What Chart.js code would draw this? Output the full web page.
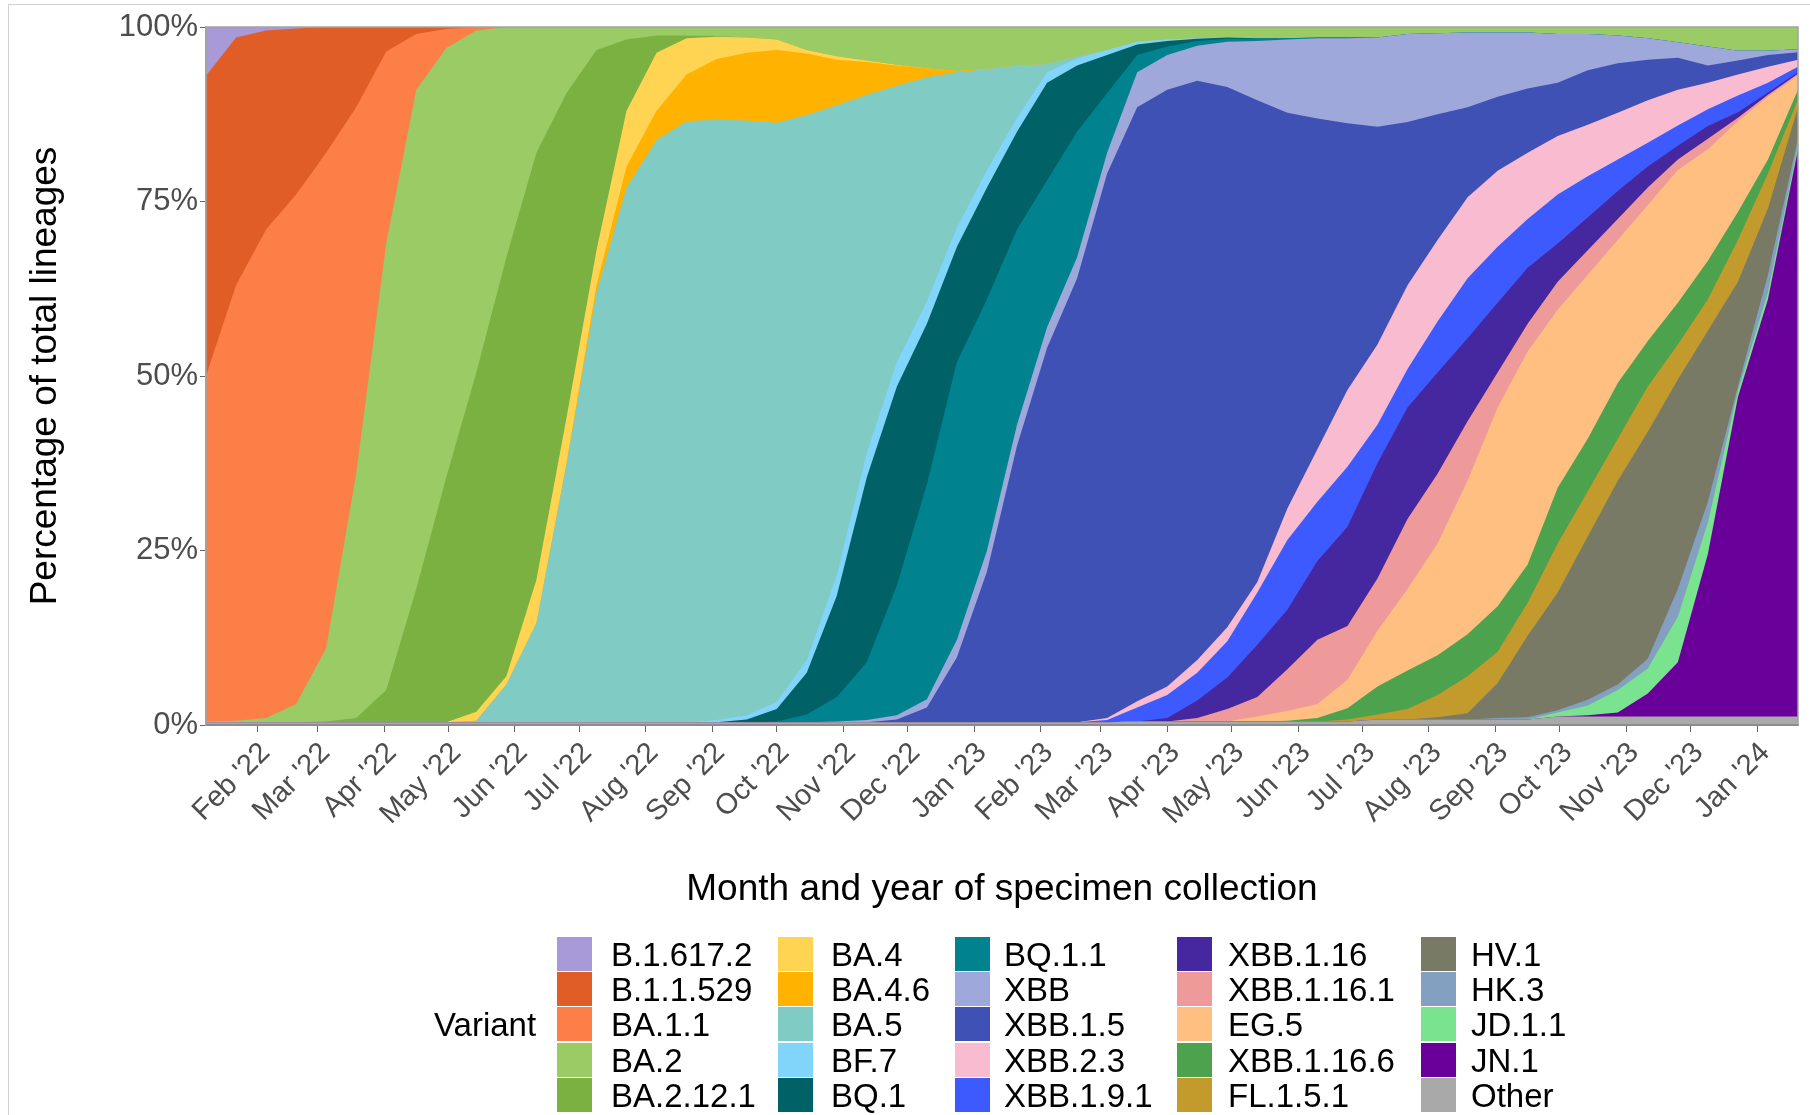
<!DOCTYPE html>
<html><head><meta charset="utf-8">
<script src="https://cdn.jsdelivr.net/npm/chart.js@4.4.1/dist/chart.umd.min.js"></script>
<style>
html,body{margin:0;padding:0;background:#fff;}
body{width:1810px;height:1115px;position:relative;overflow:hidden;font-family:"Liberation Sans",Arial,sans-serif;}
#frame{position:absolute;left:8px;top:4px;width:1830px;height:1130px;border-left:1px solid #d0d0d0;border-top:1px solid #d0d0d0;}
#c{position:absolute;left:0;top:0;}
#legend{position:absolute;left:0;top:0;width:1810px;height:1115px;}
.sw{position:absolute;width:35px;height:34px;}
.lt{position:absolute;font-size:33px;line-height:35px;color:#000;white-space:nowrap;}
</style></head><body>
<div id="frame"></div>
<canvas id="c" width="1810" height="1115"></canvas>
<div id="legend"></div>
<script>
// ---- categories (biweekly collection periods) ----
const dates = ['2022-01-08','2022-01-22','2022-02-05','2022-02-19','2022-03-05','2022-03-19','2022-04-02','2022-04-16','2022-04-30','2022-05-14',
'2022-05-28','2022-06-11','2022-06-25','2022-07-09','2022-07-23','2022-08-06','2022-08-20','2022-09-03','2022-09-17','2022-10-01',
'2022-10-15','2022-10-29','2022-11-12','2022-11-26','2022-12-10','2022-12-24','2023-01-07','2023-01-21','2023-02-04','2023-02-18',
'2023-03-04','2023-03-18','2023-04-01','2023-04-15','2023-04-29','2023-05-13','2023-05-27','2023-06-10','2023-06-24','2023-07-08',
'2023-07-22','2023-08-05','2023-08-19','2023-09-02','2023-09-16','2023-09-30','2023-10-14','2023-10-28','2023-11-11','2023-11-25',
'2023-12-09','2023-12-23','2024-01-06','2024-01-20'];

// ---- tick labels ----
const tickDates = ['2022-02-01','2022-03-01','2022-04-01','2022-05-01','2022-06-01','2022-07-01','2022-08-01','2022-09-01','2022-10-01','2022-11-01','2022-12-01',
'2023-01-01','2023-02-01','2023-03-01','2023-04-01','2023-05-01','2023-06-01','2023-07-01','2023-08-01','2023-09-01','2023-10-01','2023-11-01','2023-12-01','2024-01-01'];
const tickLabels = ["Feb '22","Mar '22","Apr '22","May '22","Jun '22","Jul '22","Aug '22","Sep '22","Oct '22","Nov '22","Dec '22",
"Jan '23","Feb '23","Mar '23","Apr '23","May '23","Jun '23","Jul '23","Aug '23","Sep '23","Oct '23","Nov '23","Dec '23","Jan '24"];
const yTicks = [0, 25, 50, 75, 100];

// ---- variants (legend order = top of stack first) and colours ----
const variants = ['B.1.617.2','B.1.1.529','BA.1.1','BA.2','BA.2.12.1','BA.4','BA.4.6','BA.5','BF.7','BQ.1',
'BQ.1.1','XBB','XBB.1.5','XBB.2.3','XBB.1.9.1','XBB.1.16','XBB.1.16.1','EG.5','XBB.1.16.6','FL.1.5.1',
'HV.1','HK.3','JD.1.1','JN.1','Other'];
const colors = ['#A899D8','#E05E26','#FD7F48','#9BCB65','#7BB141','#FFD452','#FFB300','#80CBC4','#81D4FA','#006266',
'#00838F','#9FA8DA','#3F51B5','#F8BBD0','#3D5AFE','#4527A0','#EF9A9A','#FFBF80','#4DA24E','#C29B2C',
'#797A66','#84A0C0','#79E38F','#680099','#A9A9A9'];

// ---- series values (% of lineages), one value per period ----
const B_1_617_2 = [7,1.5,0.5,0.2,0,0,0,0,0,0, 0,0,0,0,0,0,0,0,0,0, 0,0,0,0,0,0,0,0,0,0, 0,0,0,0,0,0,0,0,0,0, 0,0,0,0,0,0,0,0,0,0, 0,0,0,0];
const B_1_1_529 = [43,35.5,28.5,23.8,18,11.5,3.5,1,0.3,0, 0,0,0,0,0,0,0,0,0,0, 0,0,0,0,0,0,0,0,0,0, 0,0,0,0,0,0,0,0,0,0, 0,0,0,0,0,0,0,0,0,0, 0,0,0,0];
const BA_1_1 = [49.5,62.4,70,73,71,52.5,27.5,8,2.7,0.5, 0,0,0,0,0,0,0,0,0,0, 0,0,0,0,0,0,0,0,0,0, 0,0,0,0,0,0,0,0,0,0, 0,0,0,0,0,0,0,0,0,0, 0,0,0,0];
const BA_2 = [0.1,0.2,0.6,2.6,10.5,35,64,71.5,61.5,49, 33,18,9.5,3.3,1.8,1.2,1.2,1.3,1.5,1.8, 3.3,4.2,4.8,5.4,5.9,6.3,6,5.5,5.3,4.2, 3.3,2.1,1.8,1.6,1.5,1.6,1.6,1.5,1.5,1.5, 1.0,0.9,0.8,0.8,0.8,1.0,1.0,1.2,1.6,2.2, 2.8,3.4,3.4,3.2];
const BA_2_12_1 = [0,0,0,0,0.1,0.6,4.6,19.1,35.1,48.6, 60,61.2,46.5,28.7,10.2,2.5,0.4,0.1,0,0, 0,0,0,0,0,0,0,0,0,0, 0,0,0,0,0,0,0,0,0,0, 0,0,0,0,0,0,0,0,0,0, 0,0,0,0];
const BA_4 = [0,0,0,0,0,0,0,0,0,1.3, 1.2,6.2,6.5,5,8,8.3,5.2,3.2,2.2,1.5, 0.5,0.5,0.2,0.1,0,0,0,0,0,0, 0,0,0,0,0,0,0,0,0,0, 0,0,0,0,0,0,0,0,0,0, 0,0,0,0];
const BA_4_6 = [0,0,0,0,0,0,0,0,0,0, 0,0,0.2,1,3,4.2,6.7,8.7,9.7,10.4, 8.8,6.5,4.7,2.9,1.3,0.2,0,0,0,0, 0,0,0,0,0,0,0,0,0,0, 0,0,0,0,0,0,0,0,0,0, 0,0,0,0];
const BA_5 = [0,0,0,0,0,0,0,0,0,0.2, 5.4,14.2,36.9,61.6,76.6,83.4,86.1,86.0,85.2,83.0, 78.1,67.3,51.3,39.6,32.1,22.2,14.5,7.5,1.2,0.3, 0,0,0,0,0,0,0,0,0,0, 0,0,0,0,0,0,0,0,0,0, 0,0,0,0];
const BF_7 = [0,0,0,0,0,0,0,0,0,0, 0,0,0,0,0,0,0,0.3,0.6,1.0, 1.8,3,3.5,3.5,3.2,2.8,2.5,2,1.5,1, 0.7,0.4,0.2,0.1,0,0,0,0,0,0, 0,0,0,0,0,0,0,0,0,0, 0,0,0,0];
const BQ_1 = [0,0,0,0,0,0,0,0,0,0, 0,0,0,0,0,0,0,0,0.4,1.8, 6,14.5,26.5,28.5,23,16.5,16,14,14,9.5, 5.5,1.5,0.8,0.3,0.2,0.1,0,0,0,0, 0,0,0,0,0,0,0,0,0,0, 0,0,0,0];
const BQ_1_1 = [0,0,0,0,0,0,0,0,0,0, 0,0,0,0,0,0,0,0,0,0.1, 1.1,3.5,8.3,18.6,30.8,39.8,36,28,21,18, 8.5,2.5,1.2,0.7,0.4,0.3,0.2,0.1,0.1,0, 0,0,0,0,0,0,0,0,0,0, 0,0,0,0];
const XBB = [0,0,0,0,0,0,0,0,0,0, 0,0,0,0,0,0,0,0,0,0, 0,0.1,0.3,0.6,1.2,2.5,3,3,3,3, 3,5,5,5,6.5,8.5,10.5,11.5,12.2,12.8, 12.6,11.6,10.7,9.2,8,7,5.2,4,3.1,2.2, 2.7,1.4,0.6,0.4];
const XBB_1_5 = [0,0,0,0,0,0,0,0,0,0, 0,0,0,0,0,0,0,0,0,0, 0,0,0,0.4,2.1,9.3,21.6,39.6,53.6,63.6, 78.0,85.1,85.5,83,77.4,69,56.7,47.4,38.2,31.2, 23.4,18,12.9,10.6,9.2,7.6,7.8,7.1,5.8,4.6, 2.5,2,1.7,1.1];
const XBB_2_3 = [0,0,0,0,0,0,0,0,0,0, 0,0,0,0,0,0,0,0,0,0, 0,0,0,0,0,0,0,0,0,0, 0.3,0.9,1.2,1.8,2,1.5,4.5,7.5,11,11.5, 12,11.7,11.6,10.9,9.5,8.4,7.4,6.7,6.1,5.1, 3.8,3,2.3,1];
const XBB_1_9_1 = [0,0,0,0,0,0,0,0,0,0, 0,0,0,0,0,0,0,0,0,0, 0,0,0,0,0,0,0,0,0,0, 0.3,2.0,3.3,4.0,5.2,7.5,10,8.5,8.6,5.5, 5.5,7.3,8.6,8,7,7,5.9,4.5,3.4,2.9, 2.4,2.4,1.4,0.8];
const XBB_1_16 = [0,0,0,0,0,0,0,0,0,0, 0,0,0,0,0,0,0,0,0,0, 0,0,0,0,0,0,0,0,0,0, 0,0,0.5,2.5,4.5,7.5,8.5,11.3,14.2,16.5, 16,14.5,11.9,10,8,5.5,4.7,4,3,2, 1.8,0.8,0.3,0.2];
const XBB_1_16_1 = [0,0,0,0,0,0,0,0,0,0, 0,0,0,0,0,0,0,0,0,0, 0,0,0,0,0,0,0,0,0,0, 0,0,0,0.5,1.8,2.8,6,9.2,7.7,7.5, 10,10,8.5,5,4,4,3.5,3,2.5,1.5, 1.5,0.5,0.3,0.3];
const EG_5 = [0,0,0,0,0,0,0,0,0,0, 0,0,0,0,0,0,0,0,0,0, 0,0,0,0,0,0,0,0,0,0, 0,0,0,0,0,0.7,1.4,2,4.1,8, 11.7,16,22,28.5,30.5,25.5,23.5,20.5,19.5,19, 16,13,9,2];
const XBB_1_16_6 = [0,0,0,0,0,0,0,0,0,0, 0,0,0,0,0,0,0,0,0,0, 0,0,0,0,0,0,0,0,0,0, 0,0,0,0,0,0,0.1,0.5,1.6,4, 5.5,5.7,6,6.5,5.5,8,7.5,8,6.5,6, 5.5,4,2,1.4];
const FL_1_5_1 = [0,0,0,0,0,0,0,0,0,0, 0,0,0,0,0,0,0,0,0,0, 0,0,0,0,0,0,0,0,0,0, 0,0,0,0,0,0,0,0,0.3,0.7, 1.5,3.2,5.3,4.5,4.7,7,6.5,6,6.5,5, 4.5,6,5,1.1];
const HV_1 = [0,0,0,0,0,0,0,0,0,0, 0,0,0,0,0,0,0,0,0,0, 0,0,0,0,0,0,0,0,0,0, 0,0,0,0,0,0,0,0,0,0, 0,0.3,0.9,5,11.7,16.9,23.4,29.2,32.5,30, 24.5,15,9.5,4.5];
const HK_3 = [0,0,0,0,0,0,0,0,0,0, 0,0,0,0,0,0,0,0,0,0, 0,0,0,0,0,0,0,0,0,0, 0,0,0,0,0,0,0,0,0,0, 0,0,0,0.2,0.3,0.3,0.8,0.8,1.4,4, 3,0.7,2.5,1];
const JD_1_1 = [0,0,0,0,0,0,0,0,0,0, 0,0,0,0,0,0,0,0,0,0, 0,0,0,0,0,0,0,0,0,0, 0,0,0,0,0,0,0,0,0,0, 0,0,0,0,0,0.6,1.4,3.2,3.6,6.5, 4.5,0.8,1,0.5];
const JN_1 = [0,0,0,0,0,0,0,0,0,0, 0,0,0,0,0,0,0,0,0,0, 0,0,0,0,0,0,0,0,0,0, 0,0,0,0,0,0,0,0,0,0, 0,0,0,0,0,0,0.2,0.6,3.3,7.8, 23.3,45.8,59.8,81.3];
const OTHER = [0.4,0.4,0.4,0.4,0.4,0.4,0.4,0.4,0.4,0.4, 0.4,0.4,0.4,0.4,0.4,0.4,0.4,0.4,0.4,0.4, 0.4,0.4,0.4,0.4,0.4,0.4,0.4,0.4,0.4,0.4, 0.4,0.5,0.5,0.5,0.5,0.5,0.5,0.5,0.5,0.8, 0.8,0.8,0.8,0.8,0.8,1.2,1.2,1.2,1.2,1.2, 1.2,1.2,1.2,1.2];

const seriesValues = [B_1_617_2,B_1_1_529,BA_1_1,BA_2,BA_2_12_1,BA_4,BA_4_6,BA_5,BF_7,BQ_1,
BQ_1_1,XBB,XBB_1_5,XBB_2_3,XBB_1_9_1,XBB_1_16,XBB_1_16_1,EG_5,XBB_1_16_6,FL_1_5_1,
HV_1,HK_3,JD_1_1,JN_1,OTHER];

// ---- build chart ----
const FONT = "'Liberation Sans', Arial, Helvetica, sans-serif";
Chart.defaults.font.family = FONT;
const toDay = s => Date.UTC(+s.slice(0,4), +s.slice(5,7)-1, +s.slice(8,10)) / 864e5;
const xs = dates.map(toDay);

// bottom of stack first (reverse legend order). Each band is filled down to the
// origin; Chart.js paints the last dataset first, so lower bands cover the rest
// (painter's order, no seams between neighbouring bands).
const order = variants.map((v,i)=>i).reverse();
const datasets = order.map((vi) => {
  const vals = seriesValues[vi];
  const col = colors[vi];
  return {
    label: variants[vi],
    data: vals.map((v, j) => ({x: xs[j], y: v})),
    backgroundColor: col,
    borderColor: col,
    borderWidth: 0,
    pointRadius: 0,
    pointHoverRadius: 0,
    tension: 0,
    fill: 'origin'
  };
});

const panelBorder = {
  id: 'panelBorder',
  afterDatasetsDraw(chart) {
    const {ctx, chartArea: a} = chart;
    ctx.save();
    ctx.strokeStyle = '#a3a3a3';
    ctx.lineWidth = 1.5;
    ctx.strokeRect(a.left, a.top, a.right - a.left, a.bottom - a.top);
    ctx.beginPath();
    ctx.strokeStyle = '#8c8c8c';
    ctx.lineWidth = 2;
    ctx.moveTo(a.left, a.bottom); ctx.lineTo(a.right, a.bottom);
    ctx.stroke();
    ctx.restore();
  }
};

new Chart(document.getElementById('c'), {
  type: 'line',
  data: { datasets },
  plugins: [panelBorder],
  options: {
    responsive: false,
    animation: false,
    events: [],
    layout: { padding: { left: 0, right: 12, top: 27, bottom: 0 } },
    plugins: { legend: { display: false }, tooltip: { enabled: false }, filler: { drawTime: 'beforeDatasetDraw' } },
    scales: {
      x: {
        type: 'linear',
        min: xs[0], max: xs[xs.length - 1],
        afterFit: s => { s.height = 390; },
        afterBuildTicks: s => { s.ticks = tickDates.map(d => ({ value: toDay(d) })); },
        ticks: {
          autoSkip: false, minRotation: 45, maxRotation: 45,
          padding: 4, labelOffset: 8,
          color: '#4d4d4d', font: { size: 29 },
          callback: (v, i) => tickLabels[i]
        },
        grid: { display: true, drawOnChartArea: false, drawTicks: true, tickLength: 7, tickColor: '#666', color: '#666' },
        border: { display: true, color: '#8c8c8c', width: 2 },
        title: { display: true, text: 'Month and year of specimen collection', color: '#000',
                 font: { size: 37 }, padding: { top: 0, bottom: 203 } }
      },
      y: {
        stacked: true,
        min: 0, max: 100,
        afterFit: s => { s.width = 206; },
        afterBuildTicks: s => { s.ticks = yTicks.map(v => ({ value: v })); },
        ticks: { color: '#4d4d4d', font: { size: 31 }, padding: 2, callback: v => v + '%' },
        grid: { display: true, drawOnChartArea: false, drawTicks: true, tickLength: 6, tickColor: '#666', color: '#666' },
        border: { display: true, color: '#a3a3a3', width: 1.5 },
        title: { display: true, text: 'Percentage of total lineages', color: '#000',
                 font: { size: 37 }, padding: { top: 24, bottom: 0 } }
      }
    }
  }
});

// ---- legend (HTML, built from the same arrays) ----
const lg = document.getElementById('legend');
const swX = [557, 778, 955, 1177, 1421];
const txX = [611, 831, 1004, 1228, 1471];
const rowTop = 937, rowH = 35.2;
const vt = document.createElement('div');
vt.className = 'lt'; vt.textContent = 'Variant';
vt.style.left = '434px'; vt.style.top = (rowTop + 2 * rowH) + 'px';
lg.appendChild(vt);
variants.forEach((name, i) => {
  const col = Math.floor(i / 5), row = i % 5;
  const sw = document.createElement('div');
  sw.className = 'sw';
  sw.style.left = swX[col] + 'px';
  sw.style.top = (rowTop + row * rowH) + 'px';
  sw.style.background = colors[i];
  lg.appendChild(sw);
  const t = document.createElement('div');
  t.className = 'lt';
  t.textContent = name;
  t.style.left = txX[col] + 'px';
  t.style.top = (rowTop + row * rowH) + 'px';
  lg.appendChild(t);
});
</script></body></html>
